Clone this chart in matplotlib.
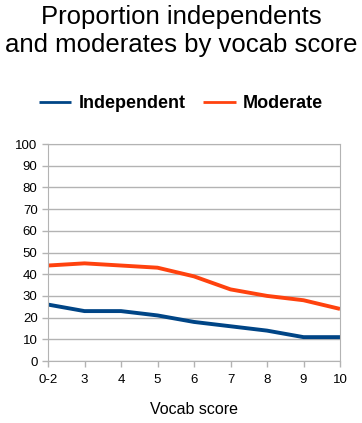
import matplotlib.pyplot as plt

plt.rcParams['font.family'] = ['Liberation Sans', 'DejaVu Sans']

scores = ['0-2', '3', '4', '5', '6', '7', '8', '9', '10']
independent = [26, 23, 23, 21, 18, 16, 14, 11, 11]
moderate = [44, 45, 44, 43, 39, 33, 30, 28, 24]

fig = plt.figure(figsize=(3.62, 4.23), dpi=100)
ax = fig.add_axes([48 / 362, 1 - 361 / 423, 292 / 362, 217 / 423])

x = range(len(scores))
ax.plot(x, independent, color='#004586', lw=2.8, label='Independent', solid_capstyle='butt')
ax.plot(x, moderate, color='#ff420e', lw=2.8, label='Moderate', solid_capstyle='butt')

ax.set_xlim(0, len(scores) - 1)
ax.set_ylim(0, 100)
ax.set_yticks(range(0, 101, 10))
ax.set_xticks(list(x))
ax.set_xticklabels(scores)
ax.grid(axis='y', color='#b3b3b3', lw=1)
ax.set_axisbelow(True)
for s in ax.spines.values():
    s.set_color('#b3b3b3')
ax.tick_params(colors='#b3b3b3', labelcolor='black', labelsize=9.5, length=4, width=1)
ax.tick_params(axis='x', pad=5)

ax.set_xlabel('Vocab score', fontsize=11.5, labelpad=12)

fig.text(0.5, 1 - 5 / 423, 'Proportion independents\nand moderates by vocab score',
         ha='center', va='top', fontsize=18.5, linespacing=1.22)

leg = fig.legend(loc='center', bbox_to_anchor=(0.5, 1 - 104 / 423), ncol=2, frameon=False,
                 prop={'weight': 'bold', 'size': 13}, handlelength=1.8, handletextpad=0.4,
                 columnspacing=1.0)
for h in leg.get_lines():
    h.set_linewidth(2)

fig.savefig('out.png', dpi=100)
